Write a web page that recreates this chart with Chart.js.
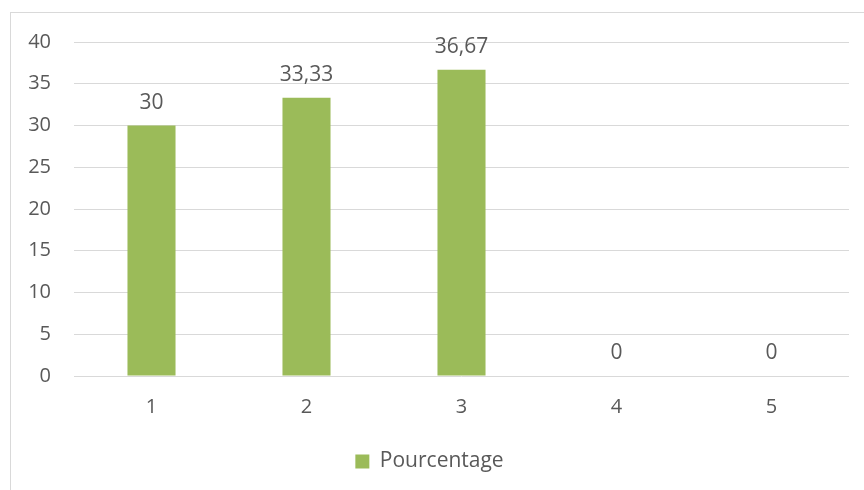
<!DOCTYPE html>
<html>
<head>
<meta charset="utf-8">
<script src="https://cdn.jsdelivr.net/npm/chart.js@4/dist/chart.umd.min.js"></script>
<style>
  html, body { margin: 0; padding: 0; background: #fff; overflow: hidden; }
  #wrap { position: relative; width: 864px; height: 490px; }
  #frame { position: absolute; left: 10px; top: 12px; width: 900px; height: 520px; border: 1px solid #d9d9d9; box-sizing: border-box; }
  canvas { position: absolute; left: 0; top: 0; }
</style>
</head>
<body>
<div id="wrap">
  <div id="frame"></div>
  <canvas id="myChart" width="864" height="490"></canvas>
</div>
<script>
const categories = ["1", "2", "3", "4", "5"]
const pourcentage = [30, 33.33, 36.67, 0, 0]
const seriesName = "Pourcentage"

const TEXT = '#595959'
const FONT = "'Open Sans', sans-serif"

// labels above each bar, decimal comma like the original
const valueLabels = {
    id: 'valueLabels',
    afterDatasetsDraw(chart) {
        const ctx = chart.ctx
        const meta = chart.getDatasetMeta(0)
        ctx.save()
        ctx.font = '21px ' + FONT
        ctx.fillStyle = TEXT
        ctx.textAlign = 'center'
        ctx.textBaseline = 'bottom'
        meta.data.forEach((bar, i) => {
            const txt = String(pourcentage[i]).replace('.', ',')
            ctx.fillText(txt, bar.x, bar.y - 12)
        })
        ctx.restore()
    }
}

var ctx = document.getElementById('myChart').getContext('2d')

var myChart = new Chart(ctx, {
    type: 'bar',
    data: {
        labels: categories,
        datasets: [{
            label: seriesName,
            data: pourcentage,
            backgroundColor: '#9bbb59',
            barPercentage: 0.62,
            categoryPercentage: 0.5
        }]
    },
    options: {
        responsive: false,
        animation: false,
        layout: { padding: { left: 10, right: 15, top: 42, bottom: 8 } },
        scales: {
            y: {
                min: 0,
                max: 40,
                ticks: { stepSize: 5, padding: 23, color: TEXT, font: { family: FONT, size: 20 } },
                grid: { color: '#d9d9d9', drawTicks: false },
                border: { display: false },
                afterFit(scale) { scale.width = 64 }
            },
            x: {
                ticks: { padding: 19, color: TEXT, font: { family: FONT, size: 20 } },
                grid: { display: false, drawTicks: false },
                border: { display: false },
                afterFit(scale) { scale.height = 63 }
            }
        },
        plugins: {
            legend: {
                position: 'bottom',
                labels: { color: TEXT, font: { family: FONT, size: 21 }, boxWidth: 14, boxHeight: 14, padding: 12 }
            },
            tooltip: { enabled: false }
        }
    },
    plugins: [valueLabels]
})
</script>
</body>
</html>
